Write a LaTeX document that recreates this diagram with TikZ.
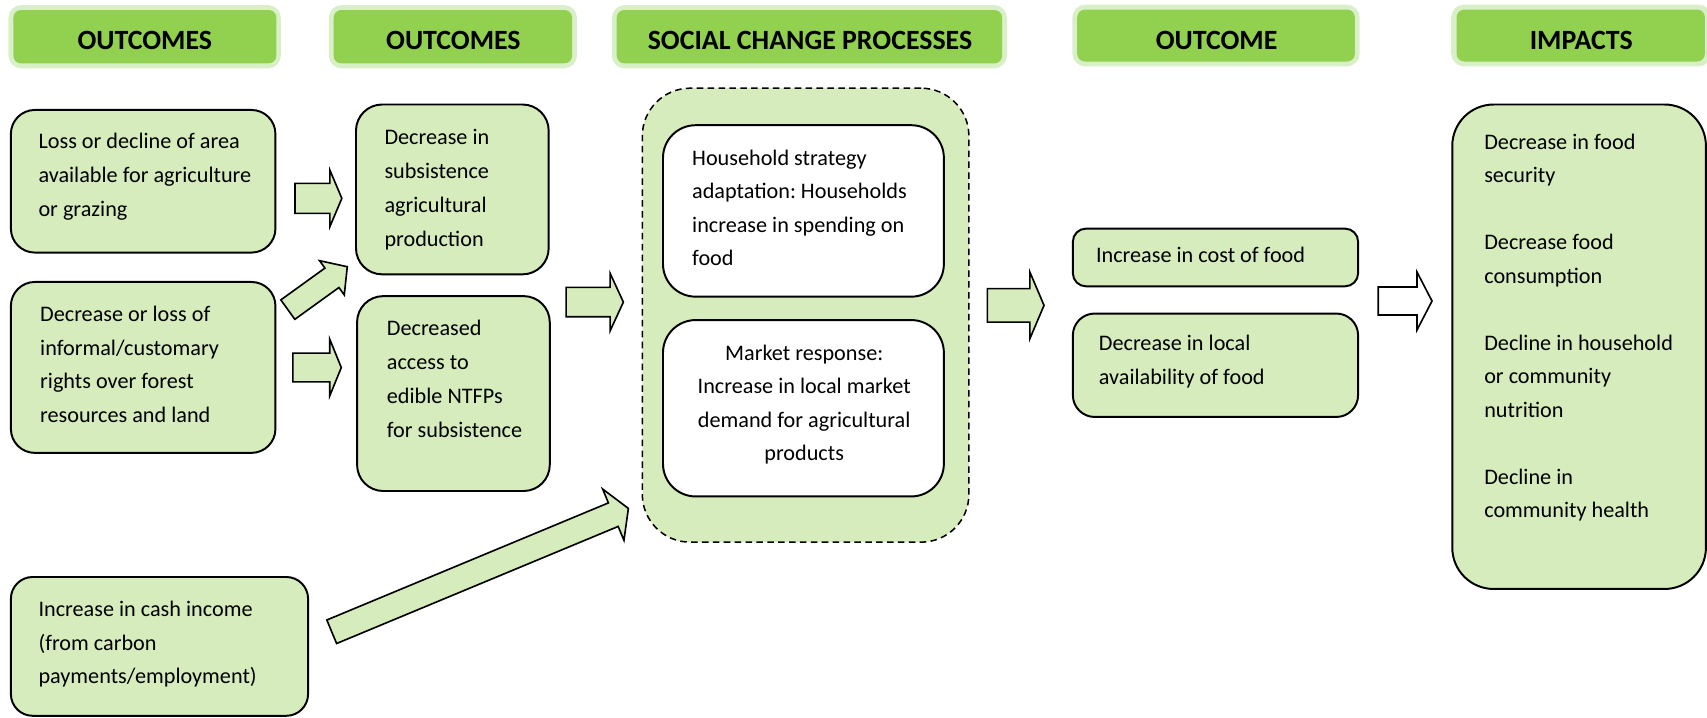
\documentclass[tikz,border=0pt]{standalone}
\usepackage{fontspec}
\setmainfont{Carlito}
\usetikzlibrary{calc,fit}
\definecolor{boxgreen}{RGB}{214,236,188}
\definecolor{hdrgreen}{RGB}{146,208,80}
\definecolor{glowgreen}{RGB}{216,239,200}
\frenchspacing
\tikzset{
  box/.style={draw=black, line width=0.9pt, fill=boxgreen, inner sep=0pt},
  wbox/.style={draw=black, line width=0.9pt, fill=white, inner sep=0pt},
  cont/.style={draw=black, line width=0.7pt, dash pattern=on 3pt off 2pt, fill=boxgreen, inner sep=0pt, rounded corners=22pt},
  txt/.style={font=\fontsize{10.2}{15.5}\selectfont, align=left, inner sep=0pt, anchor=north west},
  hglow/.style={fill=glowgreen, rounded corners=6pt, inner sep=0pt},
  hbox/.style={fill=hdrgreen, rounded corners=3.5pt, inner sep=0pt},
  htxt/.style={font=\fontsize{12.8}{15}\selectfont\bfseries, inner sep=0pt, anchor=base},
  barrow/.style={draw=black, line width=0.75pt, line join=miter},
}
% [fill]{name}{tail}{tip}{shaft half}{head half}{head length}
\newcommand{\blockarrow}[7][boxgreen]{%
  \coordinate (#2b) at ($(#4)!#7!(#3)$);
  \draw[barrow, fill=#1] ($(#3)!#5!90:(#4)$) -- ($(#2b)!#5!90:(#4)$) -- ($(#2b)!#6!90:(#4)$) -- (#4)
    -- ($(#2b)!#6!-90:(#4)$) -- ($(#2b)!#5!-90:(#4)$) -- ($(#3)!#5!-90:(#4)$) -- cycle;
}
\begin{document}
\begin{tikzpicture}[x=0.5pt,y=-0.5pt]
\path[use as bounding box] (0,0) rectangle (1568,659);

% headers
\node[hglow, fit={(7.7,4.6) (258,62.8)}] (g1) {};
\node[hbox, fit={(12.3,9.2) (253.8,58.2)}] (h1) {};
\node[htxt] (t1) at (133,45.3) {OUTCOMES};
\node[hglow, fit={(302,4.6) (530,62.8)}] (g2) {};
\node[hbox, fit={(306.5,9.2) (525.5,58.2)}] (h2) {};
\node[htxt] (t2) at (416.5,45.3) {OUTCOMES};
\node[hglow, fit={(562,4.6) (925,62.8)}] (g3) {};
\node[hbox, fit={(566.5,9.2) (920.5,58.2)}] (h3) {};
\node[htxt] (t3) at (744,45.3) {SOCIAL CHANGE PROCESSES};
\node[hglow, fit={(985,4.2) (1249,61)}] (g4) {};
\node[hbox, fit={(989.5,8.8) (1244.5,56.5)}] (h4) {};
\node[htxt] (t4) at (1117.5,45.2) {OUTCOME};
\node[hglow, fit={(1333,4.2) (1572,61)}] (g5) {};
\node[hbox, fit={(1338,8.8) (1566,56.5)}] (h5) {};
\node[htxt] (t5) at (1452.5,45.2) {IMPACTS};

% boxes
\node[box, rounded corners=11pt, fit={(10,101) (253,232)}] (A) {};
\node[txt] (Atx) at (35,114.5) {\strut Loss or decline of area\\available for agriculture\\or grazing};
\node[box, rounded corners=11pt, fit={(10,259) (253,416)}] (B) {};
\node[txt] (Btx) at (36.5,273) {\strut Decrease or loss of\\informal/customary\\rights over forest\\resources and land};
\node[box, rounded corners=10pt, fit={(10,530) (283,657.5)}] (C) {};
\node[txt] (Ctx) at (35,544) {\strut Increase in cash income\\(from carbon\\payments/employment)};
\node[box, rounded corners=12pt, fit={(327,96) (504,252)}] (D) {};
\node[txt] (Dtx) at (352.8,111) {\strut Decrease in\\subsistence\\agricultural\\production};
\node[box, rounded corners=12pt, fit={(328,272) (505,451)}] (E) {};
\node[txt] (Etx) at (355,286.5) {\strut Decreased\\access to\\edible NTFPs\\for subsistence};

\node[cont, fit={(590,81) (890,498)}] (P) {};
\node[wbox, rounded corners=15pt, fit={(609,115) (867,272.5)}] (F) {};
\node[txt, font=\fontsize{10.2}{15.3}\selectfont] (Ftx) at (635.4,130.3) {\strut Household strategy\\adaptation: Households\\increase in spending on\\food};
\node[wbox, rounded corners=15pt, fit={(609,294) (867,456)}] (G) {};
\node[txt, align=center, anchor=north, font=\fontsize{10.2}{15.3}\selectfont] (Gtx) at (738.7,309.3) {\strut Market response:\\Increase in local market\\demand for agricultural\\products};

\node[box, rounded corners=6pt, fit={(985.5,210) (1247.5,263)}] (H) {};
\node[txt] (Htx) at (1006.4,218.8) {\strut Increase in cost of food};
\node[box, rounded corners=10pt, fit={(985.5,288) (1247.5,383)}] (I) {};
\node[txt, font=\fontsize{10.2}{16}\selectfont] (Itx) at (1009,298.8) {\strut Decrease in local\\availability of food};
\node[box, rounded corners=19pt, fit={(1334,96) (1567,541)}] (J) {};
\node[txt, font=\fontsize{10.2}{15.4}\selectfont] (Jtx) at (1363,115) {\strut Decrease in food\\security\\[15.4pt]Decrease food\\consumption\\[15.4pt]Decline in household\\or community\\nutrition\\[15.4pt]Decline in\\community health};

% arrow end points
\coordinate (a1s) at (271,182.2);   \coordinate (a1e) at (314,182.2);
\coordinate (a2s) at (264.4,284.4); \coordinate (a2e) at (319,245);
\coordinate (a3s) at (269,337.6);   \coordinate (a3e) at (313.5,337.6);
\coordinate (a4s) at (520,277.5);   \coordinate (a4e) at (572.6,277.5);
\coordinate (a5s) at (304.7,580.3); \coordinate (a5e) at (577.2,467);
\coordinate (a6s) at (907,280.5);   \coordinate (a6e) at (959,280.5);
\coordinate (a7s) at (1266,276.5);  \coordinate (a7e) at (1315.4,276.5);

\blockarrow{a1}{a1s}{a1e}{6.9pt}{13pt}{5.5pt}
\blockarrow{a2}{a2s}{a2e}{5.5pt}{9.7pt}{8.7pt}
\blockarrow{a3}{a3s}{a3e}{6.6pt}{13pt}{5.3pt}
\blockarrow{a4}{a4s}{a4e}{6.75pt}{13.25pt}{6.1pt}
\blockarrow{a5}{a5s}{a5e}{5.85pt}{12.75pt}{7.5pt}
\blockarrow{a6}{a6s}{a6e}{7.7pt}{15.3pt}{6.5pt}
\blockarrow[white]{a7}{a7s}{a7e}{6.45pt}{13.3pt}{6.9pt}
\end{tikzpicture}
\end{document}
